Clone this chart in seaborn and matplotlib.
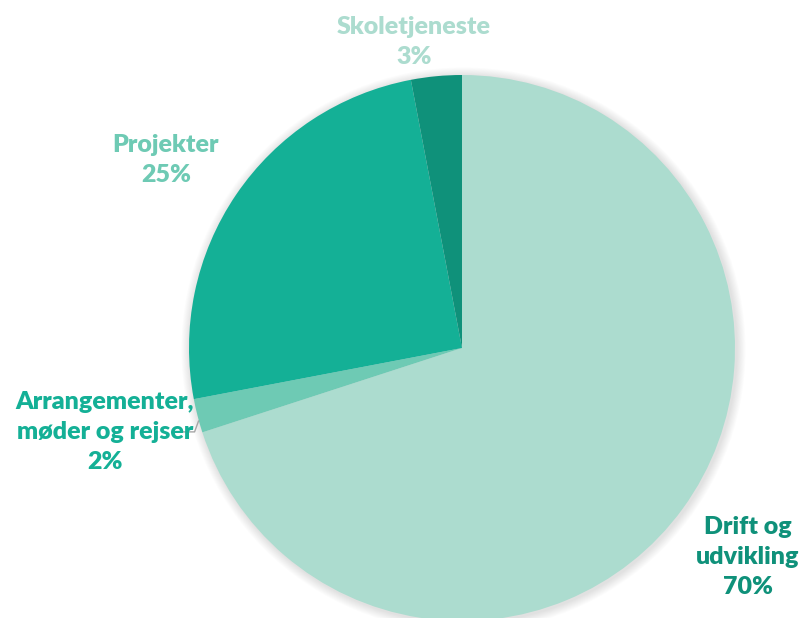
import numpy as np
import matplotlib
matplotlib.use("Agg")
import matplotlib.pyplot as plt
import seaborn as sns
from matplotlib.patches import Circle

categories = ["Drift og\nudvikling", "Arrangementer,\nmøder og rejser", "Projekter", "Skoletjeneste"]
values = [70, 2, 25, 3]
slice_colors = ["#acdccf", "#6ecab4", "#14b096", "#0f917a"]
label_colors = ["#0f917a", "#14b096", "#6ecab4", "#acdccf"]

sns.set_theme(style="white")
plt.rcParams["font.family"] = ["Lato", "DejaVu Sans"]

W, H = 808, 618
cx, cy, R = 462, 348, 273
fig = plt.figure(figsize=(W / 100, H / 100), dpi=100)
ax = fig.add_axes([0, 0, 1, 1])

# soft shadow
for i in range(10):
    ax.add_patch(Circle((1.5, -1.5), R + 1 + i * 0.9, color="black", alpha=0.012, lw=0, zorder=0))

wedges, _ = ax.pie(values, colors=slice_colors, startangle=90, counterclock=False,
                   radius=R, center=(0, 0), frame=False,
                   wedgeprops=dict(linewidth=0, zorder=2))
ax.set_xlim(-cx, W - cx)
ax.set_ylim(-(H - cy), cy)
ax.set_aspect("equal")
ax.axis("off")

# label positions (pixel coordinates of text centres)
label_pos = [(748, 557), (105, 432), (166, 160), (414, 42)]
for name, v, col, (px, py) in zip(categories, values, label_colors, label_pos):
    ax.text(px - cx, cy - py, f"{name}\n{v}%", ha="center", va="center",
            fontsize=18, fontweight="heavy", color=col, linespacing=1.42, zorder=5)

# leader line for the small slice
w = wedges[1]
mid = np.deg2rad((w.theta1 + w.theta2) / 2)
ex, ey = R * np.cos(mid), R * np.sin(mid)
ax.plot([ex + 1, ex - 3, ex - 16], [ey - 5, ey - 16, ey - 16], color="#a6a6a6", lw=1, zorder=4)

fig.savefig("out.png", dpi=100)
